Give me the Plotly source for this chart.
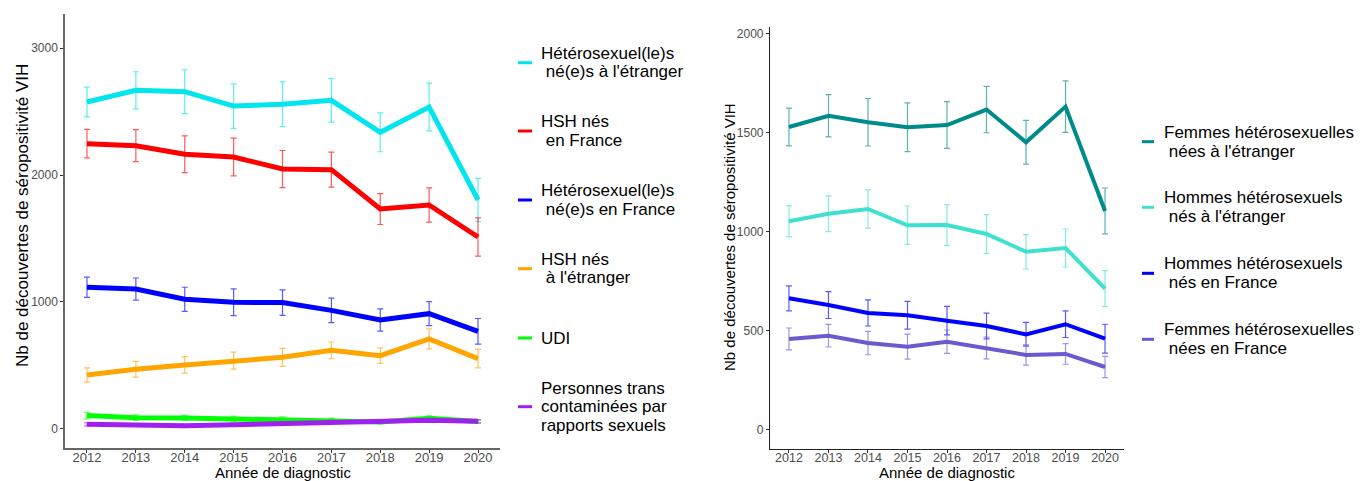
import plotly.graph_objects as go

W, H = 1369, 481
FONT = "Liberation Sans, Arial, sans-serif"

years = [2012, 2013, 2014, 2015, 2016, 2017, 2018, 2019, 2020]

# left panel: transmission groups
hetero_etranger = [2575, 2667, 2656, 2543, 2557, 2588, 2336, 2535, 1803]
hetero_etranger_err = [117, 146, 173, 175, 176, 172, 153, 188, 170]
hsh_france = [2247, 2231, 2163, 2142, 2047, 2042, 1732, 1764, 1512]
hsh_france_err = [112, 126, 145, 149, 146, 138, 122, 135, 151]
hetero_france = [1116, 1102, 1021, 998, 995, 934, 858, 908, 769]
hetero_france_err = [80, 87, 95, 105, 101, 96, 87, 94, 101]
hsh_etranger = [425, 470, 504, 538, 564, 619, 577, 709, 554]
hsh_etranger_err = [56, 62, 65, 67, 71, 66, 61, 79, 73]
udi = [105, 89, 87, 81, 76, 68, 55, 84, 58]
udi_err = [26, 22, 20, 20, 19, 18, 15, 20, 15]
trans = [37, 31, 26, 34, 42, 55, 60, 68, 60]
trans_err = [12, 10, 10, 10, 10, 12, 12, 14, 12]

left_labels = [
    ["Hétérosexuel(le)s", "\u00a0né(e)s à l'étranger"],
    ["HSH nés", "\u00a0en France"],
    ["Hétérosexuel(le)s", "\u00a0né(e)s en France"],
    ["HSH nés", "\u00a0à l'étranger"],
    ["UDI"],
    ["Personnes trans", "contaminées par", "rapports sexuels"],
]
left_colors = ["#00E5EE", "#FF0000", "#0000FF", "#FFA500", "#00FF00", "#A020F0"]

# right panel: heterosexuals by sex and birthplace
femmes_etranger = [1530, 1587, 1554, 1529, 1540, 1618, 1453, 1633, 1106]
femmes_etranger_err = [95, 107, 120, 123, 118, 117, 110, 130, 116]
hommes_etranger = [1054, 1092, 1116, 1034, 1035, 990, 900, 919, 714]
hommes_etranger_err = [78, 90, 97, 97, 103, 98, 87, 96, 91]
hommes_france = [665, 631, 591, 579, 552, 525, 483, 534, 461]
hommes_france_err = [63, 68, 66, 70, 72, 65, 60, 67, 73]
femmes_france = [460, 476, 439, 421, 446, 414, 379, 384, 318]
femmes_france_err = [55, 57, 59, 63, 59, 55, 51, 52, 54]

right_labels = [
    ["Femmes hétérosexuelles", "\u00a0nées à l'étranger"],
    ["Hommes hétérosexuels", "\u00a0nés à l'étranger"],
    ["Hommes hétérosexuels", "\u00a0nés en France"],
    ["Femmes hétérosexuelles", "\u00a0nées en France"],
]
right_colors = ["#008B8B", "#40E0D0", "#0000FF", "#6A5ACD"]


def px_x(v):
    return v / W


def px_y(v):
    return 1 - v / H


def rgba(hex_color, alpha):
    h = hex_color.lstrip("#")
    r, g, b = int(h[0:2], 16), int(h[2:4], 16), int(h[4:6], 16)
    return f"rgba({r},{g},{b},{alpha})"


def add_series(fig, values, errors, color, width, xref, yref):
    fig.add_trace(
        go.Scatter(
            x=years,
            y=values,
            mode="lines",
            line={"color": color, "width": width},
            error_y={
                "type": "data",
                "array": errors,
                "visible": True,
                "color": rgba(color, 0.65),
                "thickness": 1.2,
                "width": 3,
            },
            xaxis=xref,
            yaxis=yref,
            showlegend=False,
            hoverinfo="skip",
        )
    )


def add_legend(fig, labels, colors, key_x0, key_x1, text_x, key_ys, spacing, size):
    for lines, color, ky in zip(labels, colors, key_ys):
        fig.add_shape(
            type="line",
            xref="paper",
            yref="paper",
            x0=px_x(key_x0),
            x1=px_x(key_x1),
            y0=px_y(ky),
            y1=px_y(ky),
            line={"color": color, "width": 3},
        )
        n = len(lines)
        for i, txt in enumerate(lines):
            cy = ky + (i - (n - 1) / 2) * spacing
            fig.add_annotation(
                text=txt,
                xref="paper",
                yref="paper",
                x=px_x(text_x),
                y=px_y(cy),
                xanchor="left",
                yanchor="middle",
                showarrow=False,
                font={"family": FONT, "size": size, "color": "black"},
            )


fig = go.Figure()

left_series = [
    (hetero_etranger, hetero_etranger_err),
    (hsh_france, hsh_france_err),
    (hetero_france, hetero_france_err),
    (hsh_etranger, hsh_etranger_err),
    (udi, udi_err),
    (trans, trans_err),
]
for (vals, errs), color in zip(left_series, left_colors):
    add_series(fig, vals, errs, color, 5, "x", "y")

right_series = [
    (femmes_etranger, femmes_etranger_err),
    (hommes_etranger, hommes_etranger_err),
    (hommes_france, hommes_france_err),
    (femmes_france, femmes_france_err),
]
for (vals, errs), color in zip(right_series, right_colors):
    add_series(fig, vals, errs, color, 4, "x2", "y2")

axis_common = {
    "showgrid": False,
    "zeroline": False,
    "showline": True,
    "ticks": "outside",
    "ticklen": 3,
    "tickcolor": "#333333",
}

fig.update_layout(
    width=W,
    height=H,
    margin={"l": 0, "r": 0, "t": 0, "b": 0},
    paper_bgcolor="white",
    plot_bgcolor="white",
    xaxis={
        **axis_common,
        "domain": [px_x(65), px_x(500)],
        "range": [2011.55, 2020.45],
        "tickvals": years,
        "linecolor": "#666666",
        "linewidth": 1.5,
        "tickfont": {"family": FONT, "size": 13, "color": "#4D4D4D"},
        "ticklabelstandoff": -6,
        "anchor": "y",
    },
    yaxis={
        **axis_common,
        "domain": [px_y(448), px_y(14)],
        "range": [-150, 3268],
        "tickvals": [0, 1000, 2000, 3000],
        "linecolor": "#666666",
        "linewidth": 1.5,
        "tickfont": {"family": FONT, "size": 12, "color": "#4D4D4D"},
        "anchor": "x",
    },
    xaxis2={
        **axis_common,
        "domain": [px_x(770), px_x(1124)],
        "range": [2011.52, 2020.48],
        "tickvals": years,
        "linecolor": "#222222",
        "linewidth": 1.2,
        "tickfont": {"family": FONT, "size": 12.5, "color": "#4D4D4D"},
        "ticklabelstandoff": -6,
        "anchor": "y2",
    },
    yaxis2={
        **axis_common,
        "domain": [px_y(449), px_y(27)],
        "range": [-96, 2035],
        "tickvals": [0, 500, 1000, 1500, 2000],
        "linecolor": "#222222",
        "linewidth": 1.2,
        "tickfont": {"family": FONT, "size": 12, "color": "#4D4D4D"},
        "anchor": "x2",
    },
)

# axis titles
titles = [
    ("Nb de découvertes de séropositivité VIH", 22, 216, -90, 17),
    ("Année de diagnostic", 283, 472, 0, 15),
    ("Nb de découvertes de séropositivité VIH", 729, 237, -90, 15),
    ("Année de diagnostic", 947, 472, 0, 15),
]
for txt, tx, ty, angle, size in titles:
    fig.add_annotation(
        text=txt,
        xref="paper",
        yref="paper",
        x=px_x(tx),
        y=px_y(ty),
        xanchor="center",
        yanchor="middle",
        textangle=angle,
        showarrow=False,
        font={"family": FONT, "size": size, "color": "black"},
    )

add_legend(fig, left_labels, left_colors, 518, 532, 539,
           [62.7, 131, 200, 268.7, 338, 406.7], 18.5, 17)
add_legend(fig, right_labels, right_colors, 1142, 1154, 1162,
           [141.7, 207.3, 273.3, 339.3], 19, 17)

# the page body has a default margin: drop it so the figure fills the window
fig.write_html(
    "out.html",
    config={"displayModeBar": False},
    post_script="document.body.style.margin='0';document.body.style.overflow='hidden';",
)
